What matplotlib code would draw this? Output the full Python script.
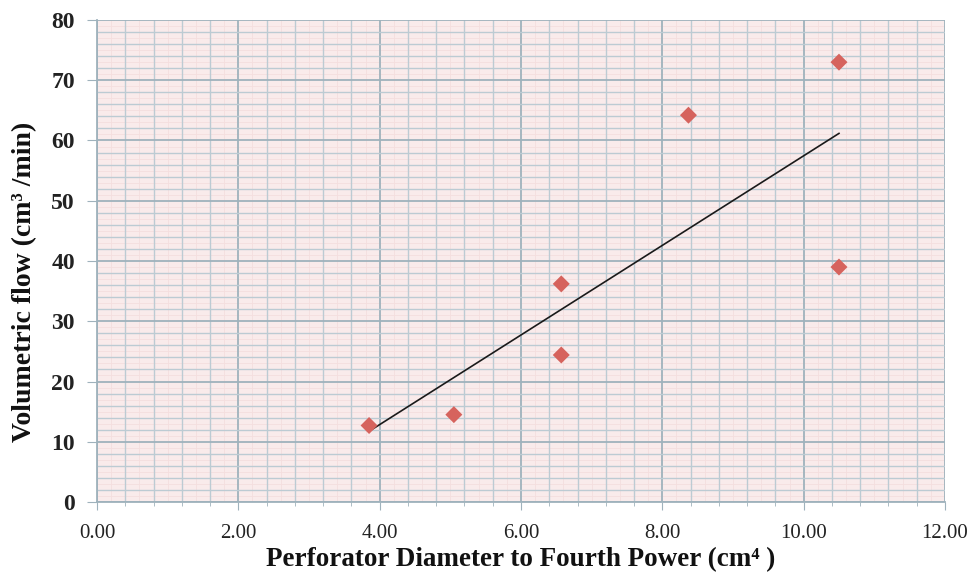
import numpy as np
import matplotlib.pyplot as plt
from matplotlib.ticker import MultipleLocator, FormatStrFormatter

# perforator diameter^4 (cm^4) and volumetric flow (cm^3/min)
diam4 = [3.85, 5.05, 6.57, 6.57, 8.37, 10.50, 10.50]
flow = [12.7, 14.5, 36.2, 24.4, 64.2, 73.0, 39.0]

x_ticks = [0, 2, 4, 6, 8, 10, 12]
y_ticks = [0, 10, 20, 30, 40, 50, 60, 70, 80]

serif = ['Liberation Serif', 'DejaVu Serif']

fig = plt.figure(figsize=(9.71, 5.74), dpi=100)
ax = fig.add_axes([0.0999, 0.1254, 0.8733, 0.8398])
ax.set_facecolor('#f9ebeb')

ax.set_xlim(0, 12)
ax.set_ylim(0, 80)
ax.set_xticks(x_ticks)
ax.set_yticks(y_ticks)
ax.xaxis.set_minor_locator(MultipleLocator(0.4))
ax.yaxis.set_minor_locator(MultipleLocator(2))
ax.xaxis.set_major_formatter(FormatStrFormatter('%.2f'))

# very faint pink sub grid, then blue minor and major grid
for v in np.arange(0.2, 12, 0.4):
    ax.axvline(v, color='#f4dede', lw=0.6, zorder=0)
for v in np.arange(1, 80, 2):
    ax.axhline(v, color='#f4dede', lw=0.6, zorder=0)
ax.grid(which='minor', color='#bccbd3', lw=1.0, zorder=1)
ax.grid(which='major', color='#9fb2bc', lw=1.3, zorder=1)
ax.set_axisbelow(True)

ax.scatter(diam4, flow, marker='D', s=75, color='#d6635d', edgecolors='none', zorder=3)

# linear trendline over the data range
k, b = np.polyfit(diam4, flow, 1)
xs = np.array([min(diam4), max(diam4)])
ax.plot(xs, k * xs + b, color='#1a1a1a', lw=1.2, zorder=2)

for s in ['top', 'right']:
    ax.spines[s].set_visible(False)
ax.spines['left'].set_color('#9fb2bc')
ax.spines['bottom'].set_color('#9fb2bc')
ax.spines['left'].set_linewidth(1.3)
ax.spines['bottom'].set_linewidth(1.3)

ax.tick_params(axis='x', which='major', length=6, color='#9fb2bc', pad=10)
ax.tick_params(axis='x', which='minor', length=3, color='#9fb2bc')
ax.tick_params(axis='y', which='major', length=7, color='#9fb2bc', pad=9)
ax.tick_params(axis='y', which='minor', length=0)

for lab in ax.get_xticklabels():
    lab.set_family(serif)
    lab.set_fontsize(15)
    lab.set_color('#222222')
for lab in ax.get_yticklabels():
    lab.set_family(serif)
    lab.set_fontsize(17)
    lab.set_fontweight('bold')
    lab.set_color('#222222')

ax.set_xlabel('Perforator Diameter to Fourth Power (cm\u2074 )', family=serif,
              fontsize=19.5, fontweight='bold', color='#111111')
ax.xaxis.set_label_coords(0.5, -0.093)
ax.set_ylabel('Volumetric flow (cm\u00b3 /min)', family=serif,
              fontsize=20, fontweight='bold', color='#111111')
ax.yaxis.set_label_coords(-0.071, 0.456)

fig.savefig('out.png', dpi=100, facecolor='white')
